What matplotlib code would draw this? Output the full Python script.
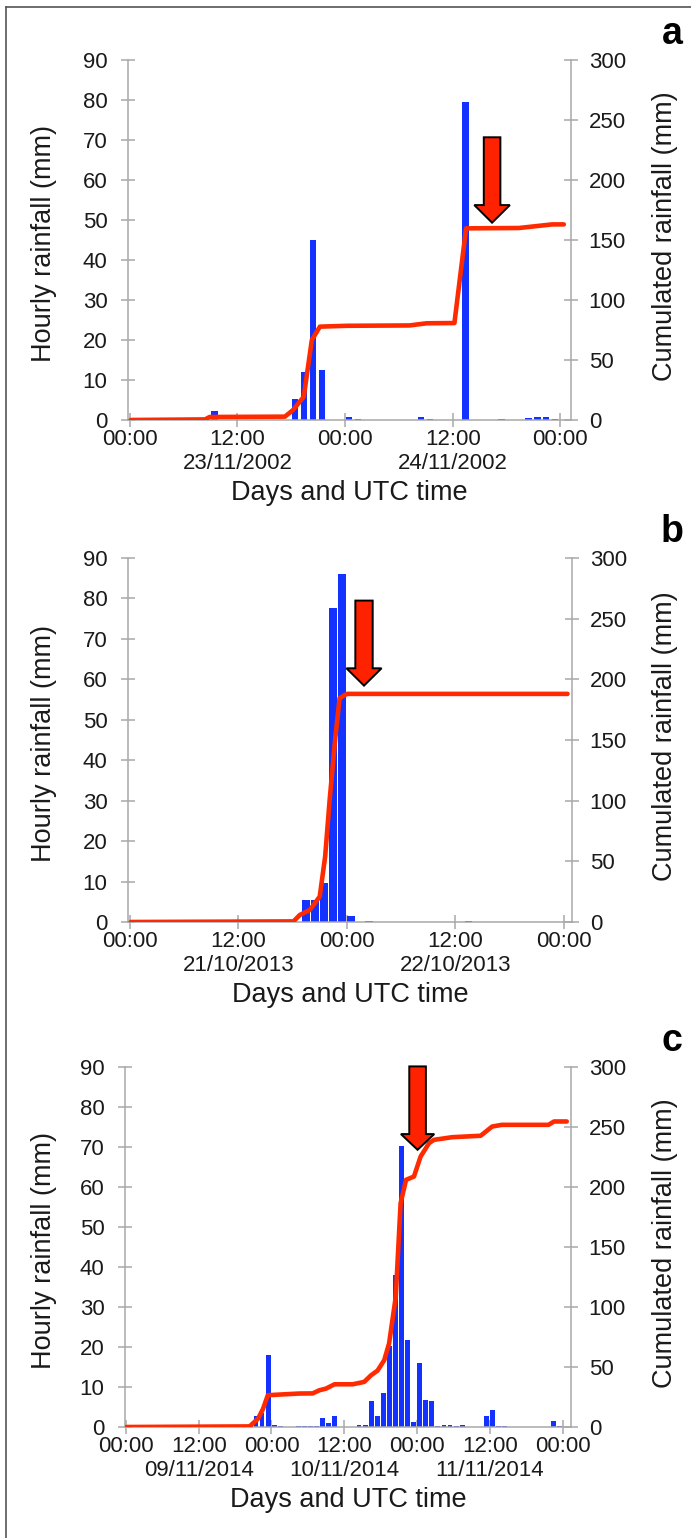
import numpy as np
import matplotlib
matplotlib.use("Agg")
import matplotlib.pyplot as plt
import matplotlib.transforms as mtransforms
from matplotlib.patches import FancyArrow
from matplotlib.lines import Line2D

plt.rcParams["font.family"] = ["Liberation Sans", "DejaVu Sans"]

# ---- panel a : 23-24/11/2002 ----
a_bar_hours = [9, 18, 19, 20, 21, 24, 25, 32, 33, 37, 41, 44, 45, 46, 47]
a_bar_mm = [2.2, 5.2, 12.0, 45.0, 12.6, 0.8, 0.3, 0.8, 0.3, 79.5, 0.2, 0.5, 0.8, 0.8, 0.3]
a_cum_hours = [0.1, 8.4, 8.9, 17.3, 18.2, 19.4, 20.3, 21.2, 24.2, 31.2, 33.1, 36.2, 37.5, 43.4, 47.1, 48.4]
a_cum_mm = [0, 0.5, 2.5, 2.8, 8.3, 19.4, 66.7, 77.8, 78.5, 78.8, 80.6, 80.8, 159.7, 160.0, 163.0, 163.0]
a_times = ["00:00", "12:00", "00:00", "12:00", "00:00"]
a_dates = ["23/11/2002", "24/11/2002"]
a_arrow = (40.4, 235.6, 164.4)   # hour, top, tip (cumulated scale)

# ---- panel b : 21-22/10/2013 ----
b_bar_hours = [19, 20, 21, 22, 23, 24, 26, 37]
b_bar_mm = [5.4, 5.4, 9.6, 77.7, 86.0, 1.5, 0.2, 0.2]
b_cum_hours = [0.1, 18.1, 18.8, 19.9, 21.0, 21.6, 22.1, 22.7, 23.2, 24.0, 48.4]
b_cum_mm = [0, 0.5, 5.8, 9.9, 20.9, 53.8, 100.6, 150.0, 184.4, 188.0, 188.0]
b_times = ["00:00", "12:00", "00:00", "12:00", "00:00"]
b_dates = ["21/10/2013", "22/10/2013"]
b_arrow = (25.9, 264.9, 194.8)

# ---- panel c : 09-11/11/2014 ----
c_bar_hours = [21, 22, 23, 24, 25, 28, 29, 30, 31, 32, 33, 34, 38, 39, 40, 41, 42, 43, 44, 45,
               46, 47, 48, 49, 50, 51, 52, 53, 54, 55, 57, 59, 60, 61, 62, 70, 71]
c_bar_mm = [2.7, 3.5, 18.1, 0.6, 0.2, 0.2, 0.2, 0.2, 0.3, 2.3, 1.1, 2.8, 0.6, 0.4, 6.5, 2.7, 8.4, 20.2, 38.0, 70.3,
            21.7, 1.3, 16.1, 6.7, 6.6, 0.3, 0.6, 0.6, 0.2, 0.6, 0.1, 2.8, 4.3, 0.2, 0.2, 1.4, 0.2]
c_cum_hours = [0.1, 20.4, 21.8, 22.6, 23.4, 28.6, 30.8, 31.9, 33.0, 34.4, 37.4, 39.3, 40.4, 41.5, 42.6, 43.4,
               44.5, 45.3, 46.2, 47.5, 48.6, 50.0, 50.8, 53.8, 58.5, 60.4, 62.0, 69.7, 70.6, 72.7]
c_cum_mm = [0, 0.5, 7.0, 15.0, 26.5, 27.9, 28.0, 30.6, 32.0, 35.6, 35.6, 37.6, 43.0, 47.0, 55.7, 69.6,
            108.5, 186.5, 206.0, 208.7, 225.4, 236.6, 239.3, 241.5, 242.7, 250.4, 251.8, 251.8, 254.6, 254.6]
c_times = ["00:00", "12:00", "00:00", "12:00", "00:00", "12:00", "00:00"]
c_dates = ["09/11/2014", "10/11/2014", "11/11/2014"]
c_arrow = (48.1, 300.5, 231.0)

W, H = 691, 1538
fig = plt.figure(figsize=(W / 100, H / 100), dpi=100)

grey = "#a8a8a8"
txt = "#1a1a1a"
blue = "#1432ff"
red = "#ff2a00"

panels = [
    # letter, box(left, right, top, bottom px), xlim, bars, bar width, cum, times, dates, arrow
    ("a", (128, 571, 60, 420), (-0.2, 49.2), a_bar_hours, a_bar_mm, 0.7, a_cum_hours, a_cum_mm, a_times, a_dates, a_arrow, (1.85, 3.97, 14.7)),
    ("b", (128, 572, 558, 922), (-0.2, 48.9), b_bar_hours, b_bar_mm, 0.85, b_cum_hours, b_cum_mm, b_times, b_dates, b_arrow, (1.92, 3.88, 14.3)),
    ("c", (125, 571, 1067, 1427), (-0.15, 73.4), c_bar_hours, c_bar_mm, 0.8, c_cum_hours, c_cum_mm, c_times, c_dates, c_arrow, (2.74, 5.5, 13.1)),
]

for letter, (l, r, t, b), xlim, bh, bmm, bw, ch, cmm, times, dates, arrow, arrow_size in panels:
    ax = fig.add_axes([l / W, 1 - b / H, (r - l) / W, (b - t) / H])
    ax2 = ax.twinx()

    ax.bar(np.array(bh) + 0.45, bmm, width=bw, color=blue, zorder=2)
    ax2.plot(ch, cmm, color=red, lw=3.3, solid_joinstyle="round", solid_capstyle="round", zorder=3)

    x0, top, tip = arrow
    shaft, head, head_len = arrow_size
    ax2.add_patch(FancyArrow(x0, top, 0, tip - top, width=shaft, head_width=head, head_length=head_len,
                             length_includes_head=True, fc="#ff2200", ec="black", lw=1.4,
                             clip_on=False, zorder=5))

    ax.set_xlim(*xlim)
    ax.set_ylim(0, 90)
    ax2.set_ylim(0, 300)
    ax.set_yticks(np.arange(0, 91, 10))
    ax2.set_yticks(np.arange(0, 301, 50))
    ax.set_xticks(np.arange(0, 12 * len(times), 12))
    ax.set_xticklabels(times)

    aw, ahh = r - l, b - t
    # date line below the noon ticks
    trans = mtransforms.blended_transform_factory(ax.transData, ax.transAxes)
    for k, d in enumerate(dates):
        ax.text(12 + 24 * k, -33 / ahh, d, transform=trans, ha="center", va="top",
                fontsize=16, color=txt)

    for a_ in (ax, ax2):
        for s in a_.spines.values():
            s.set_color(grey)
            s.set_linewidth(1.1)
        a_.spines["top"].set_visible(False)
    ax.spines["right"].set_visible(False)
    ax2.spines["left"].set_visible(False)
    ax2.spines["bottom"].set_visible(False)
    ax.patch.set_visible(False)

    ax.tick_params(axis="x", direction="inout", length=9.4, width=1.1, color=grey,
                   labelsize=16, labelcolor=txt, pad=1.8)
    ax.tick_params(axis="y", direction="inout", length=9.4, width=1.1, color=grey,
                   labelsize=16, labelcolor=txt, pad=10.0)
    ax2.tick_params(axis="y", direction="inout", length=9.4, width=1.1, color=grey,
                    labelsize=16, labelcolor=txt, pad=8.0)

    ax.set_ylabel("Hourly rainfall (mm)", fontsize=19.5, color=txt)
    ax.yaxis.set_label_coords((57 - l) / aw, 0.49)
    ax2.set_ylabel("Cumulated rainfall (mm)", fontsize=19.5, color=txt, rotation=90)
    ax2.yaxis.set_label_coords((652 - l) / aw, 0.51)
    ax.set_xlabel("Days and UTC time", fontsize=19.5, color=txt)
    ax.xaxis.set_label_coords(0.5, -60 / ahh)

    fig.text(672 / W, 1 - (t - 26) / H, letter, fontsize=27, fontweight="bold",
             ha="center", va="center", color="black")

# frame lines at top and left
fig.add_artist(Line2D([6 / W, 6 / W], [0, 1 - 7 / H], transform=fig.transFigure, color="#555555", lw=1.2))
fig.add_artist(Line2D([6 / W, 1], [1 - 7 / H, 1 - 7 / H], transform=fig.transFigure, color="#555555", lw=1.2))

fig.savefig("out.png", dpi=100)
